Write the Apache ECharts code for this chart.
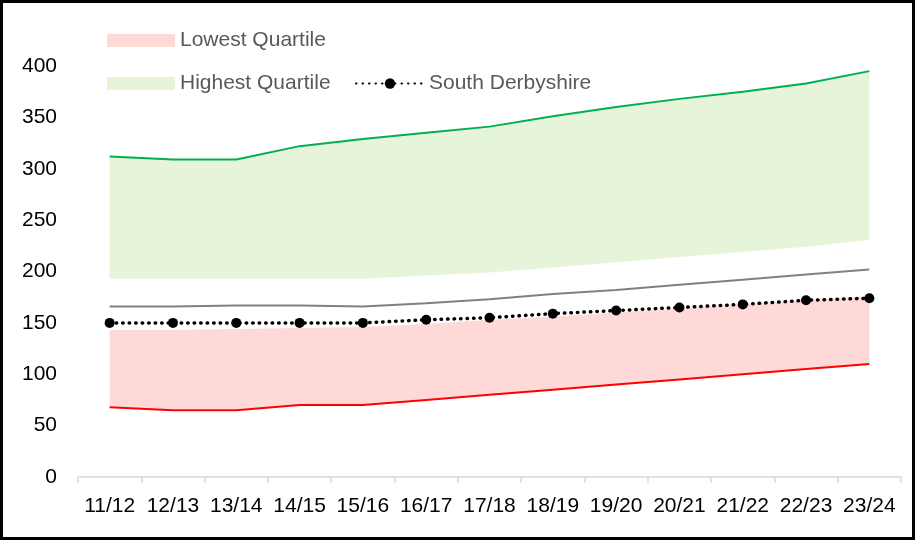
<!DOCTYPE html>
<html>
<head>
<meta charset="utf-8">
<script src="https://cdn.jsdelivr.net/npm/echarts@6/dist/echarts.min.js"></script>
<style>
  html, body { margin: 0; padding: 0; background: #fff; }
  #main { width: 915px; height: 540px; box-sizing: border-box; border: 3px solid #000; }
</style>
</head>
<body>
<div id="main"></div>
<script>
// 年份
var years = ['11/12','12/13','13/14','14/15','15/16','16/17','17/18','18/19','19/20','20/21','21/22','22/23','23/24'];
// lowest quartile band (bottom red line, top of pink)
var lowBottom = [68, 65, 65, 70, 70, 75, 80, 85, 90, 95, 100, 105, 110];
var lowTop    = [143, 143, 144, 145, 146, 149, 153, 156, 160, 164, 168, 172, 176];
// highest quartile band (bottom of green, top green line)
var highBottom = [193, 193, 193, 193, 193, 196, 199, 204, 209, 214, 219, 224, 231];
var highTop    = [312, 309, 309, 322, 329, 335, 341, 351, 360, 368, 375, 383, 395];
// grey median line
var median = [166, 166, 167, 167, 166, 169, 173, 178, 182, 187, 192, 197, 202];
// South Derbyshire
var southDerbyshire = [150, 150, 150, 150, 150, 153, 155, 159, 162, 165, 168, 172, 174];

var yTicks = { min: 0, max: 400, interval: 50 };

var pink = '#ffd8d8';
var lightGreen = '#e6f4da';

var lowBand = lowTop.map(function (v, i) { return v - lowBottom[i]; });
var highBand = highTop.map(function (v, i) { return v - highBottom[i]; });

var myChart = echarts.init(document.getElementById('main'));

var font = 'Liberation Sans, Arial, sans-serif';
var legendText = { color: '#595959', fontSize: 21, fontFamily: font };

var option = {
  backgroundColor: '#fff',
  animation: false,
  grid: { left: 75, right: 11, top: 63, bottom: 60 },
  legend: [
    {
      left: 99, top: 22, itemWidth: 68, itemHeight: 13,
      textStyle: legendText,
      data: [{ name: 'Lowest Quartile', icon: 'rect', itemStyle: { color: pink } }]
    },
    {
      left: 99, top: 65, itemWidth: 68, itemHeight: 13,
      textStyle: legendText,
      data: [{ name: 'Highest Quartile', icon: 'rect', itemStyle: { color: lightGreen } }]
    },
    {
      left: 347, top: 65, itemWidth: 68, itemHeight: 13,
      textStyle: legendText,
      data: ['South Derbyshire']
    }
  ],
  xAxis: {
    type: 'category',
    data: years,
    boundaryGap: true,
    axisLine: { lineStyle: { color: '#d9d9d9', width: 1.5 } },
    axisTick: { show: true, length: 6, lineStyle: { color: '#d9d9d9', width: 1.5 } },
    axisLabel: { color: '#000', fontSize: 21, margin: 19, interval: 0, fontFamily: font },
    splitLine: { show: false }
  },
  yAxis: {
    type: 'value',
    min: yTicks.min, max: yTicks.max, interval: yTicks.interval,
    axisLine: { show: false },
    axisTick: { show: false },
    splitLine: { show: false },
    axisLabel: { color: '#000', fontSize: 21, margin: 21, fontFamily: font }
  },
  series: [
    // 低四分位 底
    { name: 'lowBase', type: 'line', stack: 'low', data: lowBottom, symbol: 'none',
      lineStyle: { opacity: 0 }, silent: true, z: 1 },
    { name: 'Lowest Quartile', type: 'line', stack: 'low', data: lowBand, symbol: 'none',
      lineStyle: { width: 0 }, areaStyle: { color: pink, opacity: 1 }, itemStyle: { color: pink }, z: 1 },
    // 高四分位
    { name: 'highBase', type: 'line', stack: 'high', data: highBottom, symbol: 'none',
      lineStyle: { opacity: 0 }, silent: true, z: 1 },
    { name: 'Highest Quartile', type: 'line', stack: 'high', data: highBand, symbol: 'none',
      lineStyle: { width: 0 }, areaStyle: { color: lightGreen, opacity: 1 }, itemStyle: { color: lightGreen }, z: 1 },
    // 线
    { name: 'lowLine', type: 'line', data: lowBottom, symbol: 'none',
      lineStyle: { color: '#ff0000', width: 2 }, z: 3 },
    { name: 'highLine', type: 'line', data: highTop, symbol: 'none',
      lineStyle: { color: '#00b050', width: 2 }, z: 3 },
    { name: 'median', type: 'line', data: median, symbol: 'none',
      lineStyle: { color: '#808080', width: 2 }, z: 3 },
    { name: 'South Derbyshire', type: 'line', data: southDerbyshire,
      symbol: 'circle', symbolSize: 10,
      itemStyle: { color: '#000' },
      lineStyle: { color: '#000', width: 3.5, type: [0.5, 6], cap: 'round' }, z: 4 }
  ]
};

myChart.setOption(option);
</script>
</body>
</html>
